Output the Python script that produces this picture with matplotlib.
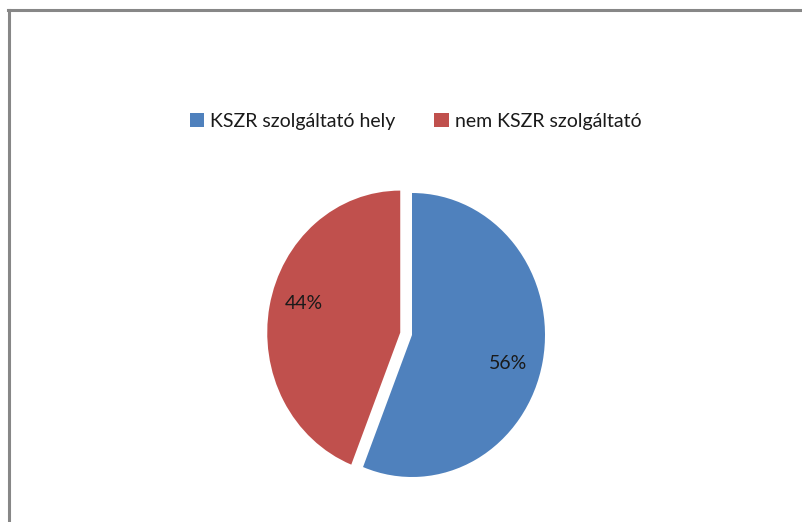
import numpy as np
import matplotlib.pyplot as plt
from matplotlib.lines import Line2D

# data
labels = ['KSZR szolgáltató hely', 'nem KSZR szolgáltató']
values = [56, 44]
colors = ['#4F81BD', '#C0504D']
explode = [0, 0.09]

plt.rcParams['font.family'] = ['Lato', 'DejaVu Sans']

W, H = 802, 522
fig = plt.figure(figsize=(W / 100, H / 100), dpi=100)

# pie box, blue slice centre at (412, 335) px, radii 133 x 142 px
lim = 1.15
cx, cy, rx, ry = 412, 335, 133, 142
ax = fig.add_axes([(cx - lim * rx) / W, (H - cy - lim * ry) / H,
                   2 * lim * rx / W, 2 * lim * ry / H])
wedges, texts, autotexts = ax.pie(values, colors=colors, explode=explode,
                                  startangle=90, counterclock=False,
                                  autopct='%1.0f%%', pctdistance=0.75,
                                  wedgeprops=dict(linewidth=0),
                                  textprops=dict(fontsize=14, color='#1a1a1a'))
# Excel puts the labels a little clockwise of the slice middle
for w, t in zip(wedges, autotexts):
    ang = np.deg2rad((w.theta1 + w.theta2) / 2 - 5)
    x0, y0 = w.center
    t.set_position((x0 + 0.75 * np.cos(ang), y0 + 0.75 * np.sin(ang)))
ax.set_aspect('auto')
ax.set_xlim(-lim, lim)
ax.set_ylim(-lim, lim)
ax.axis('off')

fig.legend(wedges, labels, loc='center', ncol=2,
           bbox_to_anchor=(415.5 / W, 1 - 121 / H), frameon=False,
           fontsize=14, handlelength=0.75, handleheight=0.75,
           handletextpad=0.3, columnspacing=2.0, labelcolor='#1a1a1a')

# chart frame (only left and top edges visible)
fig.add_artist(Line2D([9 / W, 9 / W], [0, 1 - 10 / H], color='#878787', lw=2.2))
fig.add_artist(Line2D([8 / W, 1], [1 - 10 / H, 1 - 10 / H], color='#878787', lw=2.2))

fig.savefig('out.png', dpi=100)
